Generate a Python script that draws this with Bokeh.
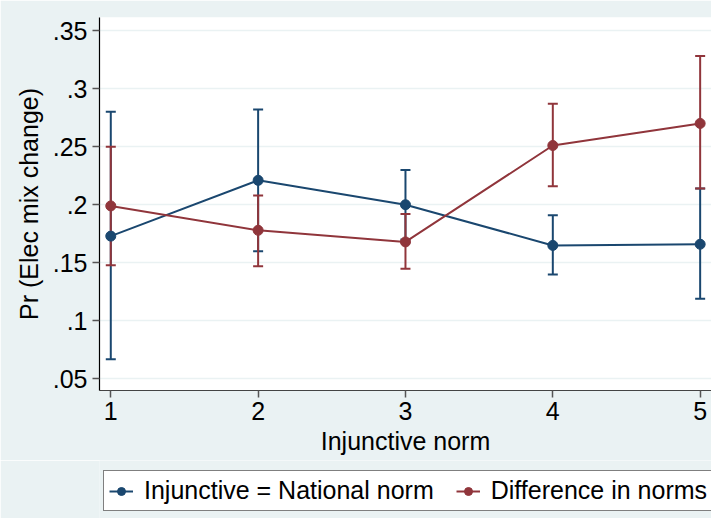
from bokeh.plotting import figure
from bokeh.layouts import column
from bokeh.models import (ColumnDataSource, Whisker, TeeHead, FixedTicker, Range1d,
                          Legend, LegendItem)
from bokeh.embed import file_html
from bokeh.resources import INLINE

# ---- data ----
x_levels = [1, 2, 3, 4, 5]
nat_mean = [0.173, 0.221, 0.200, 0.165, 0.166]
nat_lo = [0.067, 0.160, 0.170, 0.140, 0.119]
nat_hi = [0.280, 0.282, 0.230, 0.191, 0.214]
diff_mean = [0.199, 0.178, 0.168, 0.251, 0.270]
diff_lo = [0.148, 0.147, 0.145, 0.216, 0.214]
diff_hi = [0.250, 0.208, 0.192, 0.287, 0.328]
y_ticks = [0.05, 0.1, 0.15, 0.2, 0.25, 0.3, 0.35]
y_tick_labels = [".05", ".1", ".15", ".2", ".25", ".3", ".35"]
series_names = ["Injunctive = National norm", "Difference in norms"]

BLUE = "#1a476f"
RED = "#90353b"
BG = "#eaf2f3"
FONT = "Liberation Sans"
FS = "25px"

W = 711
p = figure(width=W, height=460, output_backend="svg", toolbar_location=None,
           x_range=Range1d(0.9234, 5.077), y_range=Range1d(0.0401, 0.3612),
           min_border_left=99, min_border_top=17, min_border_right=0,
           min_border_bottom=70)
p.border_fill_color = BG
p.background_fill_color = "white"
p.outline_line_color = None

src_n = ColumnDataSource(dict(x=x_levels, y=nat_mean, lo=nat_lo, hi=nat_hi))
src_d = ColumnDataSource(dict(x=x_levels, y=diff_mean, lo=diff_lo, hi=diff_hi))

for src, col in ((src_n, BLUE), (src_d, RED)):
    w = Whisker(source=src, base="x", lower="lo", upper="hi",
                line_color=col, line_width=2,
                upper_head=TeeHead(size=10, line_color=col, line_width=2),
                lower_head=TeeHead(size=10, line_color=col, line_width=2))
    p.add_layout(w)

p.line("x", "y", source=src_n, line_color=BLUE, line_width=2)
p.scatter("x", "y", source=src_n, size=10, fill_color=BLUE, line_color=BLUE)
p.line("x", "y", source=src_d, line_color=RED, line_width=2)
p.scatter("x", "y", source=src_d, size=10, fill_color=RED, line_color=RED)

# axes
p.xaxis.ticker = FixedTicker(ticks=x_levels)
p.yaxis.ticker = FixedTicker(ticks=y_ticks)
p.yaxis.major_label_overrides = {t: l for t, l in zip(y_ticks, y_tick_labels)}
p.xaxis.axis_label = "Injunctive norm"
p.yaxis.axis_label = "Pr (Elec mix change)"
for ax in (p.xaxis, p.yaxis):
    ax.axis_label_text_font = FONT
    ax.axis_label_text_font_size = FS
    ax.axis_label_text_font_style = "normal"
    ax.axis_label_text_color = "black"
    ax.major_label_text_font = FONT
    ax.major_label_text_font_size = FS
    ax.major_label_text_color = "black"
    ax.minor_tick_line_color = None
    ax.major_tick_in = 0
    ax.major_tick_out = 7
    ax.major_tick_line_color = "#555555"
    ax.major_tick_line_width = 1.5
ax = p.yaxis[0]
ax.axis_line_color = "black"
ax.axis_line_width = 1.2
ax.major_label_standoff = 5
ax.axis_label_standoff = 7
bx = p.xaxis[0]
bx.axis_line_color = "#444444"
bx.axis_line_width = 1.2
bx.major_label_standoff = 4
bx.axis_label_standoff = 4

p.xgrid.grid_line_color = None
p.ygrid.grid_line_color = BG
p.ygrid.grid_line_width = 1.5

# ---- legend strip (separate figure so the box is not clipped) ----
q = figure(width=W, height=58, output_backend="svg", toolbar_location=None,
           x_range=Range1d(0, 1), y_range=Range1d(0, 1),
           x_axis_location=None, y_axis_location=None,
           min_border_left=0, min_border_right=0, min_border_top=0, min_border_bottom=0)
q.border_fill_color = BG
q.background_fill_color = BG
q.outline_line_color = None
q.grid.visible = False
# key glyphs live outside the visible range of the strip
key_n = ColumnDataSource(dict(x=[-5, -4], y=[-5, -4]))
key_d = ColumnDataSource(dict(x=[-5, -4], y=[-5, -4]))
qln = q.line("x", "y", source=key_n, line_color=BLUE, line_width=2)
qsn = q.scatter("x", "y", source=key_n, size=8, fill_color=BLUE, line_color=BLUE)
qld = q.line("x", "y", source=key_d, line_color=RED, line_width=2)
qsd = q.scatter("x", "y", source=key_d, size=8, fill_color=RED, line_color=RED)

legend = Legend(items=[LegendItem(label=series_names[0], renderers=[qln, qsn]),
                       LegendItem(label=series_names[1], renderers=[qld, qsd])],
                orientation="horizontal", location=(4, 7),
                label_text_font=FONT, label_text_font_size=FS, label_text_color="black",
                glyph_width=24, glyph_height=20, label_standoff=11, spacing=22,
                padding=5, margin=0,
                border_line_color="black", border_line_width=1,
                background_fill_color="white", background_fill_alpha=1)
q.add_layout(legend, "center")

layout = column(p, q, spacing=0)
open("out.html", "w").write(file_html(layout, INLINE))
